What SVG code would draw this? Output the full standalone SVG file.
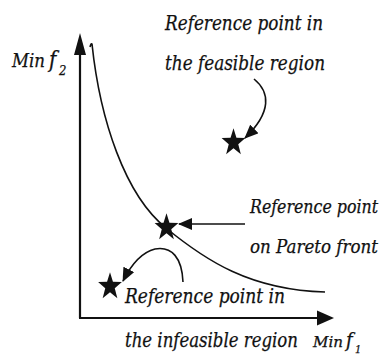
<svg xmlns="http://www.w3.org/2000/svg" width="385" height="358" viewBox="0 0 385 358">
<style>
.t{font-family:"DejaVu Serif Condensed","DejaVu Serif",serif;font-style:italic;fill:#111;stroke:#111;stroke-width:0.25;}
.ln{fill:none;stroke:#111;stroke-width:1.6;}
.ax{fill:none;stroke:#111;stroke-width:2.2;}
.hd{fill:#111;stroke:none;}
</style>
<defs>
<path id="star" d="M0,-12.5 L2.94,-4.05 11.89,-3.86 4.76,1.55 7.35,10.11 0,5 -7.35,10.11 -4.76,1.55 -11.89,-3.86 -2.94,-4.05 Z" fill="#111"/>
<marker id="ah" viewBox="0 0 14 12" refX="13" refY="6" markerWidth="14" markerHeight="12" markerUnits="userSpaceOnUse" orient="auto">
<path d="M0,0 L14,6 L0,12 Z" fill="#111"/>
</marker>
</defs>
<rect width="385" height="358" fill="#fff"/>
<g id="axes">
<line class="ax" x1="80" y1="318" x2="80" y2="50"/>
<polygon class="hd" points="80,33 74,55 86,55"/>
<line class="ax" x1="79" y1="318" x2="320" y2="318"/>
<polygon class="hd" points="334,318 317,310.5 317,325.5"/>
<text class="t" x="12" y="67" font-size="19" textLength="33" lengthAdjust="spacingAndGlyphs">Min</text>
<text class="t" x="49" y="67" font-size="22">f</text>
<text class="t" x="59" y="75" font-size="13" font-style="normal">2</text>
<text class="t" x="313" y="347" font-size="14" textLength="30" lengthAdjust="spacingAndGlyphs">Min</text>
<text class="t" x="346" y="347" font-size="20">f</text>
<text class="t" x="355" y="353" font-size="11" font-style="normal">1</text>
</g>
<g id="pareto-front">
<path class="ln" d="M90,47 Q91,43 92,44 C100,120 125,195 166,228 C205,260 250,290 325,292"/>
</g>
<g id="feasible-point">
<use href="#star" transform="translate(233.5,142.5) scale(1,1.15)"/>
<text class="t" x="165" y="30" font-size="21" textLength="158" lengthAdjust="spacingAndGlyphs">Reference point in</text>
<text class="t" x="165" y="70" font-size="21" textLength="160" lengthAdjust="spacingAndGlyphs">the feasible region</text>
</g>
<g id="pareto-point">
<use href="#star" transform="translate(166.5,227.5) scale(1,1.15)"/>
<text class="t" x="250" y="213" font-size="18" textLength="128" lengthAdjust="spacingAndGlyphs">Reference point</text>
<text class="t" x="250" y="253" font-size="19" textLength="128" lengthAdjust="spacingAndGlyphs">on Pareto front</text>
</g>
<g id="infeasible-point">
<use href="#star" transform="translate(110,286.5) scale(1,1.15)"/>
<text class="t" x="125" y="303" font-size="21" textLength="160" lengthAdjust="spacingAndGlyphs">Reference point in</text>
<text class="t" x="125" y="347" font-size="20" textLength="173" lengthAdjust="spacingAndGlyphs">the infeasible region</text>
</g>
<g id="connectors">
<path class="ln" d="M254,79 C270,92 272,112 245,138" marker-end="url(#ah)"/>
<path class="ln" d="M245,224 L179,224" marker-end="url(#ah)"/>
<path class="ln" d="M183,282 C182,258 172,246 155,249 C143,252 132,263 123,281" marker-end="url(#ah)"/>
</g>
</svg>
